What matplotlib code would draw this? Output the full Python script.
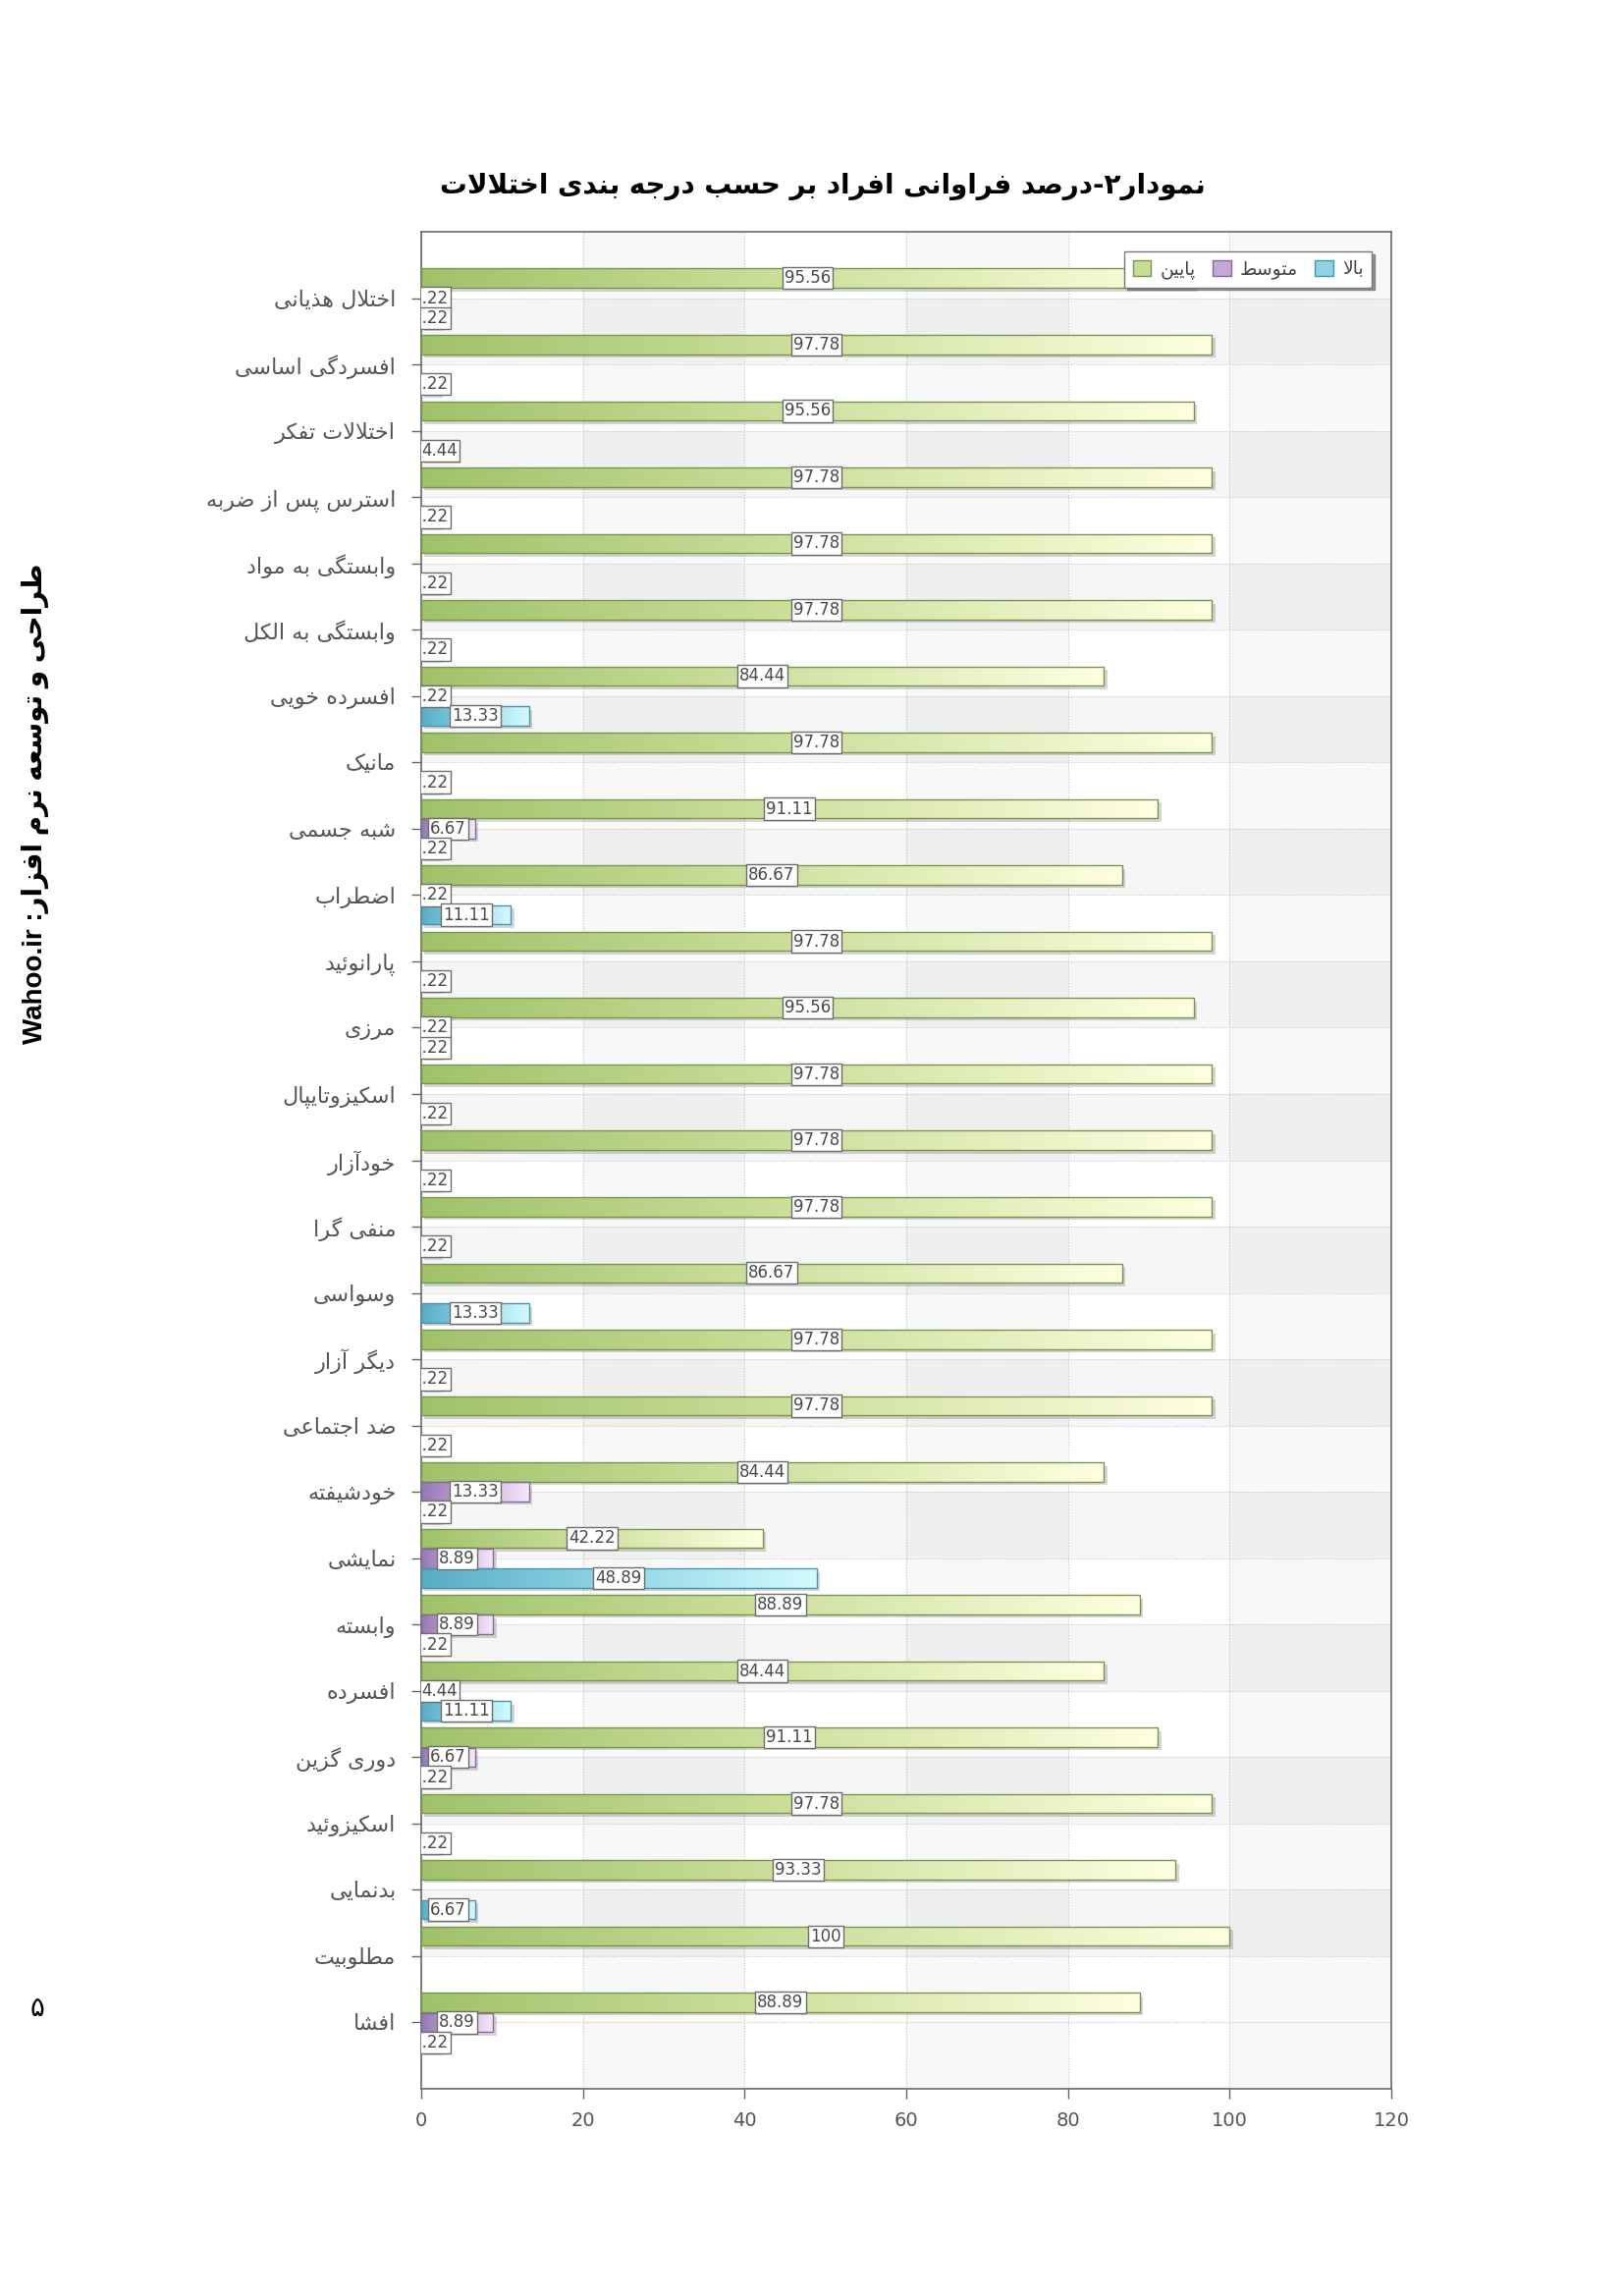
import numpy as np
import matplotlib
matplotlib.use("Agg")
import matplotlib.pyplot as plt
from matplotlib.colors import LinearSegmentedColormap
from matplotlib.patches import Patch
from matplotlib import patheffects as pe

# ---------------- data ----------------
categories = [
    "اختلال هذیانی", "افسردگی اساسی", "اختلالات تفکر", "استرس پس از ضربه",
    "وابستگی به مواد", "وابستگی به الکل", "افسرده خویی", "مانیک", "شبه جسمی",
    "اضطراب", "پارانوئید", "مرزی", "اسکیزوتایپال", "خودآزار", "منفی گرا",
    "وسواسی", "دیگر آزار", "ضد اجتماعی", "خودشیفته", "نمایشی", "وابسته",
    "افسرده", "دوری گزین", "اسکیزوئید", "بدنمایی", "مطلوبیت", "افشا",
]
low = [95.56, 97.78, 95.56, 97.78, 97.78, 97.78, 84.44, 97.78, 91.11, 86.67,
       97.78, 95.56, 97.78, 97.78, 97.78, 86.67, 97.78, 97.78, 84.44, 42.22,
       88.89, 84.44, 91.11, 97.78, 93.33, 100, 88.89]
mid = [2.22, 0, 0, 0, 0, 0, 2.22, 0, 6.67, 2.22, 0, 2.22, 0, 0, 0, 0, 0, 0,
       13.33, 8.89, 8.89, 4.44, 6.67, 0, 0, 0, 8.89]
high = [2.22, 2.22, 4.44, 2.22, 2.22, 2.22, 13.33, 2.22, 2.22, 11.11, 2.22,
        2.22, 2.22, 2.22, 2.22, 13.33, 2.22, 2.22, 2.22, 48.89, 2.22, 11.11,
        2.22, 2.22, 6.67, 0, 2.22]
series_names = ["پایین", "متوسط", "بالا"]
xticks = [0, 20, 40, 60, 80, 100, 120]
title = "نمودار۲-درصد فراوانی افراد بر حسب درجه بندی اختلالات"
side_fa = "طراحی و توسعه نرم افزار"
side_en = "Wahoo.ir"
page_no = "۵"

# ---------------- arabic shaping ----------------
FORMS = {
    '\u0627': ('\uFE8D', '\uFE8E'), '\u0622': ('\uFE81', '\uFE82'),
    '\u0628': ('\uFE8F', '\uFE90', '\uFE91', '\uFE92'),
    '\u067E': ('\uFB56', '\uFB57', '\uFB58', '\uFB59'),
    '\u062A': ('\uFE95', '\uFE96', '\uFE97', '\uFE98'),
    '\u062B': ('\uFE99', '\uFE9A', '\uFE9B', '\uFE9C'),
    '\u062C': ('\uFE9D', '\uFE9E', '\uFE9F', '\uFEA0'),
    '\u0686': ('\uFB7A', '\uFB7B', '\uFB7C', '\uFB7D'),
    '\u062D': ('\uFEA1', '\uFEA2', '\uFEA3', '\uFEA4'),
    '\u062E': ('\uFEA5', '\uFEA6', '\uFEA7', '\uFEA8'),
    '\u062F': ('\uFEA9', '\uFEAA'), '\u0630': ('\uFEAB', '\uFEAC'),
    '\u0631': ('\uFEAD', '\uFEAE'), '\u0632': ('\uFEAF', '\uFEB0'),
    '\u0698': ('\uFB8A', '\uFB8B'),
    '\u0633': ('\uFEB1', '\uFEB2', '\uFEB3', '\uFEB4'),
    '\u0634': ('\uFEB5', '\uFEB6', '\uFEB7', '\uFEB8'),
    '\u0635': ('\uFEB9', '\uFEBA', '\uFEBB', '\uFEBC'),
    '\u0636': ('\uFEBD', '\uFEBE', '\uFEBF', '\uFEC0'),
    '\u0637': ('\uFEC1', '\uFEC2', '\uFEC3', '\uFEC4'),
    '\u0638': ('\uFEC5', '\uFEC6', '\uFEC7', '\uFEC8'),
    '\u0639': ('\uFEC9', '\uFECA', '\uFECB', '\uFECC'),
    '\u063A': ('\uFECD', '\uFECE', '\uFECF', '\uFED0'),
    '\u0641': ('\uFED1', '\uFED2', '\uFED3', '\uFED4'),
    '\u0642': ('\uFED5', '\uFED6', '\uFED7', '\uFED8'),
    '\u06A9': ('\uFB8E', '\uFB8F', '\uFB90', '\uFB91'),
    '\u06AF': ('\uFB92', '\uFB93', '\uFB94', '\uFB95'),
    '\u0644': ('\uFEDD', '\uFEDE', '\uFEDF', '\uFEE0'),
    '\u0645': ('\uFEE1', '\uFEE2', '\uFEE3', '\uFEE4'),
    '\u0646': ('\uFEE5', '\uFEE6', '\uFEE7', '\uFEE8'),
    '\u0647': ('\uFEE9', '\uFEEA', '\uFEEB', '\uFEEC'),
    '\u0648': ('\uFEED', '\uFEEE'),
    '\u06CC': ('\uFBFC', '\uFBFD', '\uFBFE', '\uFBFF'),
    '\u0626': ('\uFE89', '\uFE8A', '\uFE8B', '\uFE8C'),
}
LAMALEF = {'\u0627': ('\uFEFB', '\uFEFC'), '\u0622': ('\uFEF5', '\uFEF6')}


def shape(s):
    out = []
    n = len(s)
    i = 0
    prev_joins = False
    while i < n:
        c = s[i]
        if c not in FORMS:
            out.append(c)
            prev_joins = False
            i += 1
            continue
        if c == '\u0644' and i + 1 < n and s[i + 1] in LAMALEF:
            lig = LAMALEF[s[i + 1]]
            out.append(lig[1] if prev_joins else lig[0])
            prev_joins = False
            i += 2
            continue
        f = FORMS[c]
        nxt = s[i + 1] if i + 1 < n else None
        join_next = len(f) == 4 and nxt in FORMS
        if prev_joins and join_next:
            g = f[3]
        elif prev_joins:
            g = f[1]
        elif join_next:
            g = f[2]
        else:
            g = f[0]
        out.append(g)
        prev_joins = len(f) == 4
        i += 1
    return ''.join(out)


def vis(s):
    return shape(s)[::-1]


plt.rcParams['font.family'] = ['DejaVu Sans']

# ---------------- figure ----------------
W, H = 1654, 2338
fig = plt.figure(figsize=(W / 100, H / 100), dpi=100)
L, R, T, B = 429, 1417, 236, 2127
ax = fig.add_axes([L / W, 1 - B / H, (R - L) / W, (B - T) / H])

n = len(categories)
y = np.arange(n)

# background stripes
for k in range(0, n - 1, 2):
    ax.axhspan(k, k + 1, color='#f6f6f6', zorder=0, lw=0)
for x0 in (20, 60, 100):
    ax.axvspan(x0, x0 + 20, color='#000000', alpha=0.028, zorder=0.5, lw=0)

ax.grid(True, axis='both', linestyle=(0, (1, 1.5)), color='#c4c4c4', lw=0.8, zorder=1)
ax.set_axisbelow(True)

colors = {
    'low': (['#a0c26a', '#cfe09f', '#ffffe1'], '#78964e', '#c7dc98'),
    'mid': (['#9579b3', '#c8aad8', '#f8e8fb'], '#8468a0', '#c4a8d6'),
    'high': (['#58acc6', '#92d6e6', '#d4fbfe'], '#4994ad', '#8fd3e3'),
}
series = [('low', low, -0.3), ('mid', mid, 0.0), ('high', high, 0.3)]
bh = 0.29

shadow = [pe.SimplePatchShadow(offset=(2.5, -2.5), shadow_rgbFace='#000000', alpha=0.16), pe.Normal()]

for key, vals, off in series:
    vals = np.asarray(vals, dtype=float)
    stops, edge, midc = colors[key]
    cmap = LinearSegmentedColormap.from_list(key, stops)
    base = ax.barh(y + off, vals, height=bh, color='white', lw=0, zorder=2)
    grad = np.linspace(0, 1, 256)[None, :]
    for p, v in zip(base.patches, vals):
        p.set_path_effects(shadow)
        if v <= 0:
            p.set_visible(False)
            continue
        x0, y0, w, h = p.get_x(), p.get_y(), p.get_width(), p.get_height()
        im = ax.imshow(grad, cmap=cmap, extent=(x0, x0 + w, y0 + h, y0),
                       aspect='auto', interpolation='bilinear', zorder=3)
        im.set_clip_path(p)
    outline = ax.barh(y + off, vals, height=bh, facecolor='none',
                      edgecolor=edge, lw=1.0, zorder=4)
    for p, v in zip(outline.patches, vals):
        if v <= 0:
            p.set_visible(False)
            continue
        ax.text(p.get_x() + p.get_width() / 2, p.get_y() + p.get_height() / 2,
                f"{v:g}", ha='center', va='center', fontsize=12,
                color='#4a4a4a', zorder=6, clip_on=True,
                bbox=dict(boxstyle='square,pad=0.13', fc='white', ec='#6e6e6e', lw=1.0))

ax.set_xlim(0, 120)
ax.set_ylim(n, -1)
ax.set_xticks(xticks)
ax.set_xticklabels([str(t) for t in xticks], fontsize=14, color='#555555')
ax.set_yticks(y)
ax.set_yticklabels([vis(c) for c in categories], fontsize=16, color='#555555')
ax.tick_params(axis='y', length=7.5, width=1, color='#666666', pad=11)
ax.tick_params(axis='x', length=7.5, width=1, color='#666666', pad=9)
for s in ax.spines.values():
    s.set_color('#6a6a6a')
    s.set_linewidth(1.2)

# legend
handles = [Patch(facecolor=colors[k][2], edgecolor=colors[k][1], lw=1.0) for k in ('low', 'mid', 'high')]
leg = ax.legend(handles, [vis(s) for s in series_names], ncol=3, loc='upper right',
                bbox_to_anchor=(0.980, 0.9894), borderaxespad=0, fontsize=13.5,
                frameon=True, fancybox=False, shadow={'color': '#555555', 'alpha': 0.6},
                edgecolor='#777777', handlelength=1.0, handleheight=1.0,
                handletextpad=0.5, columnspacing=0.9, borderpad=0.45)
leg.get_frame().set_linewidth(1.0)
for t in leg.get_texts():
    t.set_color('#444444')
leg.set_zorder(10)

# title
fig.text(838 / W, 1 - 190 / H, vis(title), ha='center', va='center',
         fontsize=20, fontweight='bold', color='black')

# side text
side = side_en + " :" + vis(side_fa)
fig.text(36 / W, 1 - 818 / H, side, rotation=90, ha='center', va='center',
         fontsize=20, fontweight='bold', color='black',
         family=['Liberation Sans', 'DejaVu Sans'])

fig.text(38 / W, 1 - 2045 / H, page_no, ha='center', va='center', fontsize=20, color='black')

fig.savefig('out.png', dpi=100)
